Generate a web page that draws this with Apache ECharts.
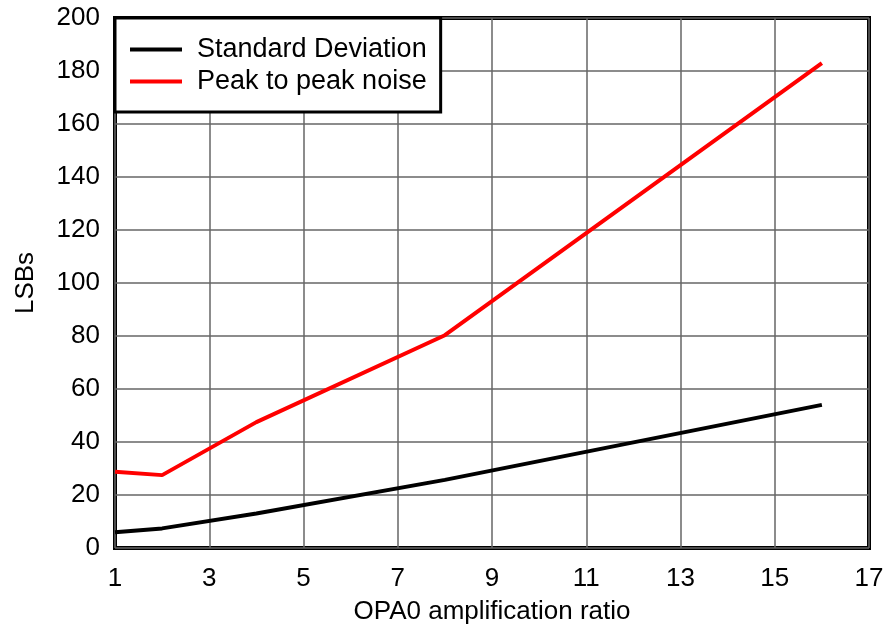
<!DOCTYPE html>
<html><head><meta charset="utf-8">
<script src="https://cdn.jsdelivr.net/npm/echarts@6/dist/echarts.min.js"></script>
<style>html,body{margin:0;padding:0;background:#fff}#c{width:887px;height:626px}</style>
</head><body><div id="c"></div>
<script>
const xValues = [1, 2, 4, 8, 16];
const stdDev = [5.9, 7.4, 13, 25.7, 54];
const peakToPeak = [28.8, 27.5, 47.5, 80.3, 183];
const seriesNames = ['Standard Deviation', 'Peak to peak noise'];
const xAxisName = 'OPA0 amplification ratio';
const yAxisName = 'LSBs';

const chart = echarts.init(document.getElementById('c'));
const pairs = (ys) => xValues.map((x, i) => [x, ys[i]]);
const FONT = 'Liberation Sans, Arial, sans-serif';
chart.setOption({
  animation: false,
  backgroundColor: '#fff',
  grid: { left: 115, right: 18, top: 18, bottom: 78, containLabel: false, outerBoundsMode: 'none', show: true, borderColor: '#000', borderWidth: 4, backgroundColor: 'transparent' },
  legend: {
    orient: 'vertical', left: 115, top: 18,
    backgroundColor: '#fff', borderColor: '#000', borderWidth: 3,
    padding: [18, 14, 17, 15],
    itemWidth: 52, itemHeight: 4, itemGap: 5,
    icon: 'rect',
    textStyle: { fontFamily: FONT, fontSize: 27, color: '#000', lineHeight: 27, padding: [0, 0, 0, 10] },
    data: seriesNames
  },
  xAxis: {
    type: 'value', min: 1, max: 17, interval: 2,
    name: xAxisName, nameLocation: 'middle', nameGap: 51,
    nameTextStyle: { fontFamily: FONT, fontSize: 26, color: '#000' },
    axisLine: { show: false }, axisTick: { show: false },
    axisLabel: { fontFamily: FONT, fontSize: 26, color: '#000', margin: 18 },
    splitLine: { show: true, lineStyle: { color: '#666', width: 1.5 } }
  },
  yAxis: {
    type: 'value', min: 0, max: 200, interval: 20,
    name: yAxisName, nameLocation: 'middle', nameGap: 76, nameRotate: 90,
    nameTextStyle: { fontFamily: FONT, fontSize: 26, color: '#000' },
    axisLine: { show: false }, axisTick: { show: false },
    axisLabel: { fontFamily: FONT, fontSize: 26, color: '#000', margin: 15 },
    splitLine: { show: true, lineStyle: { color: '#666', width: 1.5 } }
  },
  series: [
    { name: seriesNames[0], type: 'line', data: pairs(stdDev), symbol: 'none', lineStyle: { color: '#000', width: 4 }, itemStyle: { color: '#000' } },
    { name: seriesNames[1], type: 'line', data: pairs(peakToPeak), symbol: 'none', lineStyle: { color: '#ff0000', width: 4 }, itemStyle: { color: '#ff0000' } }
  ]
});
</script></body></html>
